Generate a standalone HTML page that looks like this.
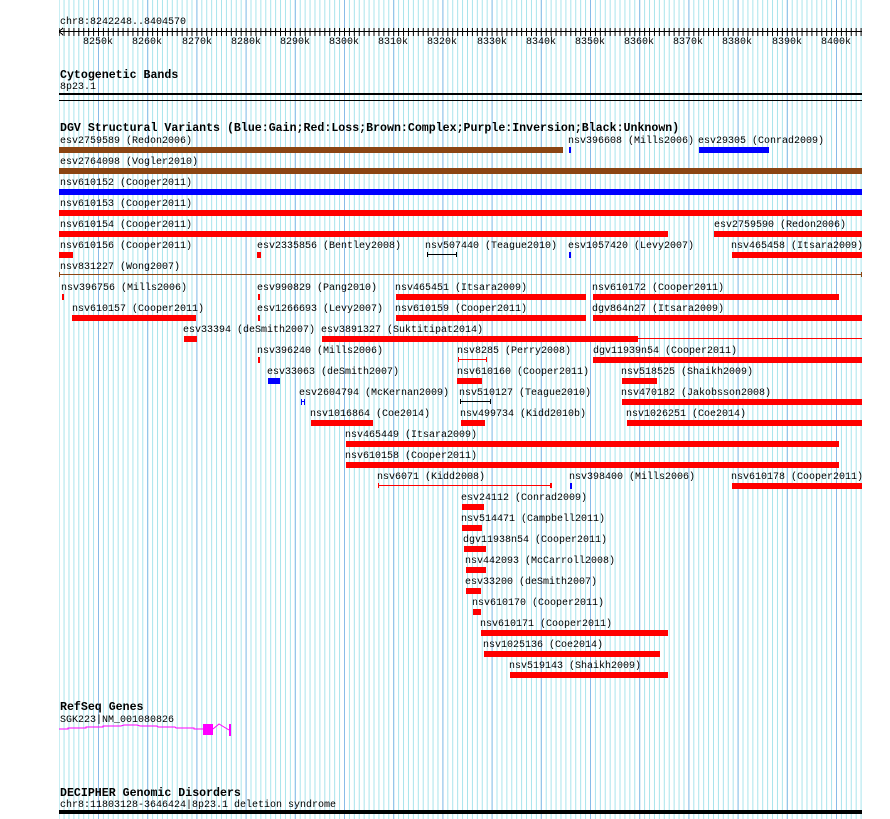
<!DOCTYPE html>
<html><head><meta charset="utf-8"><style>
html,body{margin:0;padding:0;background:#fff;}
svg{display:block;}
text{font-family:"Liberation Mono","DejaVu Sans Mono",monospace;font-size:10px;fill:#000;}
.h{font-weight:bold;font-size:11.6px;}
</style></head><body>
<svg width="890" height="819" viewBox="0 0 890 819" xmlns="http://www.w3.org/2000/svg" shape-rendering="crispEdges">
<defs>
<pattern id="mn" x="98" y="0" width="4.92" height="819" patternUnits="userSpaceOnUse"><rect x="0" y="0" width="1" height="819" fill="#a8e4ec"/></pattern>
<pattern id="mj" x="98" y="0" width="49.2" height="819" patternUnits="userSpaceOnUse"><rect x="0" y="0" width="1" height="819" fill="#88bce8"/></pattern>
</defs>
<rect x="59" y="0" width="804" height="819" fill="url(#mn)"/>
<rect x="59" y="0" width="804" height="819" fill="url(#mj)"/>

<!-- ruler -->
<text x="60" y="24">chr8:8242248..8404570</text>
<rect x="59" y="31" width="803" height="1" fill="#000"/>
<path d="M59,31.5 L63,28 M59,31.5 L63,35" stroke="#000" fill="none"/>
<rect x="59" y="28" width="803" height="8" fill="url(#tk)"/>
<defs><pattern id="tk" x="98" y="28" width="4.92" height="8" patternUnits="userSpaceOnUse"><rect x="0" y="0" width="1" height="8" fill="#000"/></pattern></defs>
<g text-anchor="middle">
<text x="98" y="44">8250k</text><text x="147" y="44">8260k</text><text x="197" y="44">8270k</text><text x="246" y="44">8280k</text><text x="295" y="44">8290k</text><text x="344" y="44">8300k</text><text x="393" y="44">8310k</text><text x="442" y="44">8320k</text><text x="492" y="44">8330k</text><text x="541" y="44">8340k</text><text x="590" y="44">8350k</text><text x="639" y="44">8360k</text><text x="688" y="44">8370k</text><text x="737" y="44">8380k</text><text x="787" y="44">8390k</text><text x="836" y="44">8400k</text>
</g>

<text class="h" x="60" y="78">Cytogenetic Bands</text>
<text x="60" y="89">8p23.1</text>
<rect x="59" y="93" width="803" height="2" fill="#000"/>
<rect x="59" y="100" width="803" height="1" fill="#000"/>

<text class="h" x="60" y="131">DGV Structural Variants (Blue:Gain;Red:Loss;Brown:Complex;Purple:Inversion;Black:Unknown)</text>

<g>
<!-- row1 -->
<text x="60" y="143">esv2759589 (Redon2006)</text><rect x="59" y="147" width="504" height="6" fill="#8b4513"/>
<text x="568" y="143">nsv396608 (Mills2006)</text><rect x="569" y="147" width="2" height="6" fill="#00f"/>
<text x="698" y="143">esv29305 (Conrad2009)</text><rect x="699" y="147" width="70" height="6" fill="#00f"/>
<!-- row2 -->
<text x="60" y="164">esv2764098 (Vogler2010)</text><rect x="59" y="168" width="803" height="6" fill="#8b4513"/>
<text x="60" y="185">nsv610152 (Cooper2011)</text><rect x="59" y="189" width="803" height="6" fill="#00f"/>
<text x="60" y="206">nsv610153 (Cooper2011)</text><rect x="59" y="210" width="803" height="6" fill="#f00"/>
<text x="60" y="227">nsv610154 (Cooper2011)</text><rect x="59" y="231" width="609" height="6" fill="#f00"/>
<text x="714" y="227">esv2759590 (Redon2006)</text><rect x="714" y="231" width="148" height="6" fill="#f00"/>
<!-- row6 -->
<text x="60" y="248">nsv610156 (Cooper2011)</text><rect x="59" y="252" width="14" height="6" fill="#f00"/>
<text x="257" y="248">esv2335856 (Bentley2008)</text><rect x="257" y="252" width="4" height="6" fill="#f00"/>
<text x="425" y="248">nsv507440 (Teague2010)</text><rect x="427" y="254" width="30" height="1" fill="#000"/><rect x="427" y="252" width="1" height="5" fill="#000"/><rect x="456" y="252" width="1" height="5" fill="#000"/>
<text x="568" y="248">esv1057420 (Levy2007)</text><rect x="569" y="252" width="2" height="6" fill="#00f"/>
<text x="731" y="248">nsv465458 (Itsara2009)</text><rect x="732" y="252" width="130" height="6" fill="#f00"/>
<!-- row7 -->
<text x="60" y="269">nsv831227 (Wong2007)</text><rect x="59" y="274" width="803" height="1" fill="#8b4513"/><rect x="59" y="272" width="1" height="5" fill="#8b4513"/><rect x="861" y="272" width="1" height="5" fill="#8b4513"/>
<!-- row8 -->
<text x="61" y="290">nsv396756 (Mills2006)</text><rect x="62" y="294" width="2" height="6" fill="#f00"/>
<text x="257" y="290">esv990829 (Pang2010)</text><rect x="258" y="294" width="2" height="6" fill="#f00"/>
<text x="395" y="290">nsv465451 (Itsara2009)</text><rect x="396" y="294" width="190" height="6" fill="#f00"/>
<text x="592" y="290">nsv610172 (Cooper2011)</text><rect x="593" y="294" width="246" height="6" fill="#f00"/>
<!-- row9 -->
<text x="72" y="311">nsv610157 (Cooper2011)</text><rect x="72" y="315" width="124" height="6" fill="#f00"/>
<text x="257" y="311">esv1266693 (Levy2007)</text><rect x="258" y="315" width="2" height="6" fill="#f00"/>
<text x="395" y="311">nsv610159 (Cooper2011)</text><rect x="396" y="315" width="190" height="6" fill="#f00"/>
<text x="592" y="311">dgv864n27 (Itsara2009)</text><rect x="593" y="315" width="269" height="6" fill="#f00"/>
<!-- row10 -->
<text x="183" y="332">esv33394 (deSmith2007)</text><rect x="184" y="336" width="13" height="6" fill="#f00"/>
<text x="321" y="332">esv3891327 (Suktitipat2014)</text><rect x="322" y="336" width="316" height="6" fill="#f00"/><rect x="638" y="338" width="224" height="1" fill="#f00"/>
<!-- row11 -->
<text x="257" y="353">nsv396240 (Mills2006)</text><rect x="258" y="357" width="2" height="6" fill="#f00"/>
<text x="457" y="353">nsv8285 (Perry2008)</text><rect x="458" y="359" width="29" height="1" fill="#f00"/><rect x="458" y="357" width="1" height="5" fill="#f00"/><rect x="486" y="357" width="1" height="5" fill="#f00"/>
<text x="593" y="353">dgv11939n54 (Cooper2011)</text><rect x="593" y="357" width="269" height="6" fill="#f00"/>
<!-- row12 -->
<text x="267" y="374">esv33063 (deSmith2007)</text><rect x="268" y="378" width="12" height="6" fill="#00f"/>
<text x="457" y="374">nsv610160 (Cooper2011)</text><rect x="457" y="378" width="25" height="6" fill="#f00"/>
<text x="621" y="374">nsv518525 (Shaikh2009)</text><rect x="622" y="378" width="35" height="6" fill="#f00"/>
<!-- row13 -->
<text x="299" y="395">esv2604794 (McKernan2009)</text><rect x="301" y="399" width="1" height="6" fill="#00f"/><rect x="304" y="399" width="1" height="6" fill="#00f"/><rect x="301" y="401" width="4" height="1" fill="#00f"/>
<text x="459" y="395">nsv510127 (Teague2010)</text><rect x="460" y="401" width="30" height="1" fill="#000"/><rect x="460" y="399" width="1" height="5" fill="#000"/><rect x="490" y="399" width="1" height="5" fill="#000"/>
<text x="621" y="395">nsv470182 (Jakobsson2008)</text><rect x="622" y="399" width="240" height="6" fill="#f00"/>
<!-- row14 -->
<text x="310" y="416">nsv1016864 (Coe2014)</text><rect x="311" y="420" width="62" height="6" fill="#f00"/>
<text x="460" y="416">nsv499734 (Kidd2010b)</text><rect x="461" y="420" width="24" height="6" fill="#f00"/>
<text x="626" y="416">nsv1026251 (Coe2014)</text><rect x="627" y="420" width="235" height="6" fill="#f00"/>
<!-- row15-16 -->
<text x="345" y="437">nsv465449 (Itsara2009)</text><rect x="346" y="441" width="493" height="6" fill="#f00"/>
<text x="345" y="458">nsv610158 (Cooper2011)</text><rect x="346" y="462" width="493" height="6" fill="#f00"/>
<!-- row17 -->
<text x="377" y="479">nsv6071 (Kidd2008)</text><rect x="378" y="485" width="173" height="1" fill="#f00"/><rect x="378" y="483" width="1" height="5" fill="#f00"/><rect x="550" y="483" width="2" height="5" fill="#f00"/>
<text x="569" y="479">nsv398400 (Mills2006)</text><rect x="570" y="483" width="2" height="6" fill="#00f"/>
<text x="731" y="479">nsv610178 (Cooper2011)</text><rect x="732" y="483" width="130" height="6" fill="#f00"/>
<!-- rows 18+ -->
<text x="461" y="500">esv24112 (Conrad2009)</text><rect x="462" y="504" width="22" height="6" fill="#f00"/>
<text x="461" y="521">nsv514471 (Campbell2011)</text><rect x="462" y="525" width="20" height="6" fill="#f00"/>
<text x="463" y="542">dgv11938n54 (Cooper2011)</text><rect x="464" y="546" width="22" height="6" fill="#f00"/>
<text x="465" y="563">nsv442093 (McCarroll2008)</text><rect x="466" y="567" width="20" height="6" fill="#f00"/>
<text x="465" y="584">esv33200 (deSmith2007)</text><rect x="466" y="588" width="15" height="6" fill="#f00"/>
<text x="472" y="605">nsv610170 (Cooper2011)</text><rect x="473" y="609" width="8" height="6" fill="#f00"/>
<text x="480" y="626">nsv610171 (Cooper2011)</text><rect x="481" y="630" width="187" height="6" fill="#f00"/>
<text x="483" y="647">nsv1025136 (Coe2014)</text><rect x="484" y="651" width="176" height="6" fill="#f00"/>
<text x="509" y="668">nsv519143 (Shaikh2009)</text><rect x="510" y="672" width="158" height="6" fill="#f00"/>
</g>

<text class="h" x="60" y="710">RefSeq Genes</text>
<text x="60" y="722">SGK223|NM_001080826</text>
<polyline points="59,729 68,729 68,728 86,728 86,727 103,727 103,726 121,726 124,725 137,725 140,726 157,726 158,727 175,727 176,728 194,728 194,729 203,729" fill="none" stroke="#f0f" stroke-width="1" shape-rendering="auto"/>
<rect x="203" y="724" width="10" height="11" fill="#f0f"/>
<polyline points="213,729 219,724 224,727 229,730" fill="none" stroke="#f0f" stroke-width="1" shape-rendering="auto"/>
<rect x="229" y="724" width="2" height="12" fill="#f0f"/>

<text class="h" x="60" y="796">DECIPHER Genomic Disorders</text>
<text x="60" y="807">chr8:11803128-3646424|8p23.1 deletion syndrome</text>
<rect x="59" y="810" width="803" height="4" fill="#000"/>
</svg>
</body></html>
